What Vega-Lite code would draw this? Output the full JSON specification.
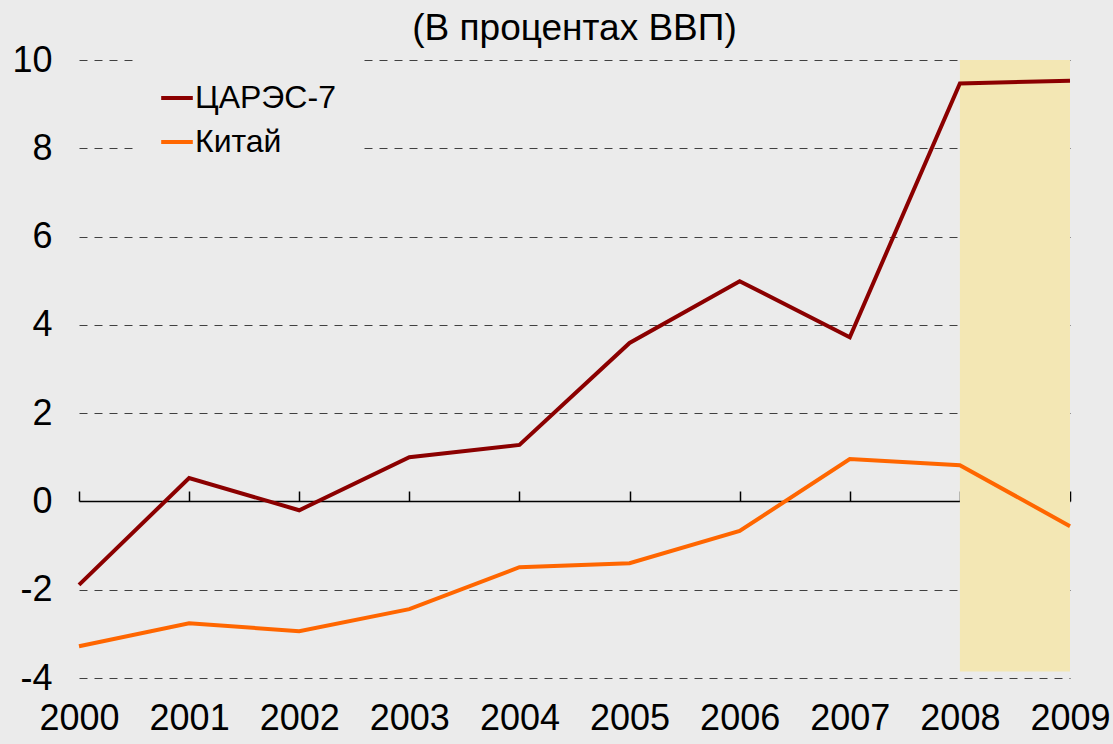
{
  "$schema": "https://vega.github.io/schema/vega-lite/v6.json",
  "autosize": "none",
  "width": 991,
  "height": 618,
  "padding": {"left": 79, "top": 60, "right": 43, "bottom": 66},
  "background": "#ebebeb",
  "title": {"text": "(В процентах ВВП)", "font": "Liberation Sans", "fontSize": 37, "fontWeight": "normal", "color": "#000000", "anchor": "middle", "frame": "group", "baseline": "alphabetic", "offset": 22, "dy": 57},
  "config": {
    "view": {"stroke": null},
    "font": "Liberation Sans"
  },
  "datasets": {
    "series": [
      {"year": 2000, "value": -1.89, "series": "ЦАРЭС-7"},
      {"year": 2001, "value": 0.53, "series": "ЦАРЭС-7"},
      {"year": 2002, "value": -0.2, "series": "ЦАРЭС-7"},
      {"year": 2003, "value": 1.0, "series": "ЦАРЭС-7"},
      {"year": 2004, "value": 1.28, "series": "ЦАРЭС-7"},
      {"year": 2005, "value": 3.59, "series": "ЦАРЭС-7"},
      {"year": 2006, "value": 4.99, "series": "ЦАРЭС-7"},
      {"year": 2007, "value": 3.72, "series": "ЦАРЭС-7"},
      {"year": 2008, "value": 9.47, "series": "ЦАРЭС-7"},
      {"year": 2009, "value": 9.53, "series": "ЦАРЭС-7"},
      {"year": 2000, "value": -3.28, "series": "Китай"},
      {"year": 2001, "value": -2.76, "series": "Китай"},
      {"year": 2002, "value": -2.94, "series": "Китай"},
      {"year": 2003, "value": -2.44, "series": "Китай"},
      {"year": 2004, "value": -1.49, "series": "Китай"},
      {"year": 2005, "value": -1.4, "series": "Китай"},
      {"year": 2006, "value": -0.67, "series": "Китай"},
      {"year": 2007, "value": 0.96, "series": "Китай"},
      {"year": 2008, "value": 0.82, "series": "Китай"},
      {"year": 2009, "value": -0.56, "series": "Китай"}
    ],
    "shade": [{"start": 2008, "end": 2009, "lo": -3.85, "hi": 10}]
  },
  "layer": [
    {
      "data": {"name": "shade"},
      "mark": {"type": "rect", "color": "#f3e7b4"},
      "encoding": {
        "x": {"field": "start", "type": "quantitative", "scale": {"domain": [2000, 2009], "nice": false, "zero": false},
          "axis": {"orient": "bottom", "title": null, "values": [2000,2001,2002,2003,2004,2005,2006,2007,2008,2009], "format": "d", "domain": false, "ticks": false, "grid": false, "labelFont": "Liberation Sans", "labelFontSize": 36, "labelColor": "#000000", "labelPadding": 23, "labelFlush": false}},
        "x2": {"field": "end"},
        "y": {"field": "lo", "type": "quantitative", "scale": {"domain": [-4, 10], "nice": false, "zero": false},
          "axis": {"title": null, "values": [-4,-2,0,2,4,6,8,10], "labelExpr": "datum.value + ''", "domain": false, "ticks": false, "grid": true, "gridColor": "#404040", "gridDash": [8, 7], "gridWidth": 1,
            "gridOpacity": {"condition": {"test": "datum.value === 0", "value": 0}, "value": 1},
            "labelFont": "Liberation Sans", "labelFontSize": 36, "labelColor": "#000000", "labelPadding": 27}},
        "y2": {"field": "hi"}
      }
    },
    {
      "data": {"name": "series"},
      "mark": {"type": "line", "strokeWidth": 4},
      "encoding": {
        "x": {"field": "year", "type": "quantitative",
          "axis": {"orient": "top", "offset": -441, "zindex": 0, "title": null, "values": [2000,2001,2002,2003,2004,2005,2006,2007,2008,2009], "labels": false, "domain": true, "domainColor": "#000000", "domainWidth": 1.5, "ticks": true, "tickColor": "#000000", "tickSize": 10, "tickWidth": 1.5, "grid": false}},
        "y": {"field": "value", "type": "quantitative"},
        "color": {"field": "series", "type": "nominal",
          "scale": {"domain": ["ЦАРЭС-7", "Китай"], "range": ["#8b0000", "#ff6600"]},
          "legend": {"title": null, "orient": "none", "legendX": 58, "legendY": -2, "symbolType": "stroke", "symbolStrokeWidth": 4, "symbolSize": 1000, "labelFont": "Liberation Sans", "labelFontSize": 32, "labelColor": "#000000", "labelOffset": 0, "rowPadding": 10, "fillColor": "#ebebeb", "padding": 22}}
      }
    }
  ],
  "resolve": {"axis": {"x": "independent"}}
}
